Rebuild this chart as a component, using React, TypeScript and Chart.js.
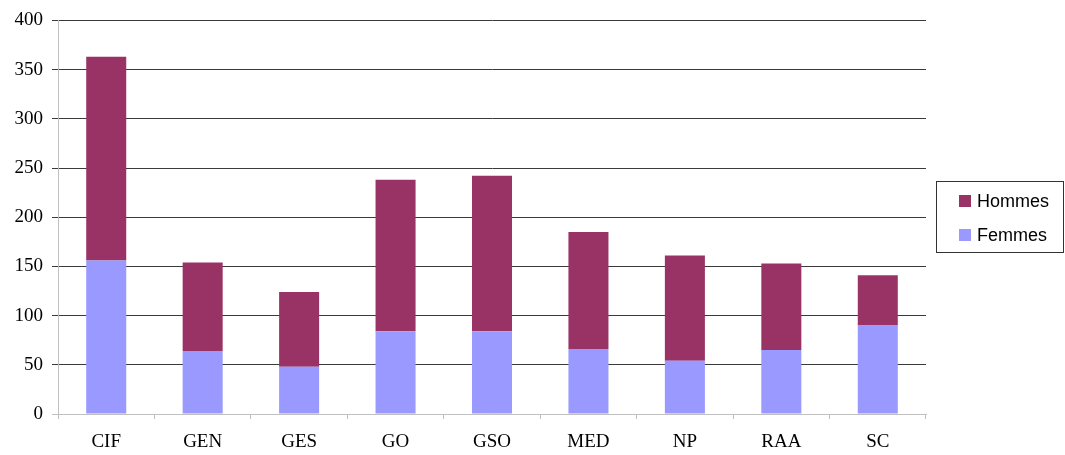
import React, { useEffect, useRef } from "react";
import { Chart, registerables } from "chart.js";

Chart.register(...registerables);

const categories = ["CIF", "GEN", "GES", "GO", "GSO", "MED", "NP", "RAA", "SC"];
const femmes = [156, 64, 48, 84, 84, 66, 54, 65, 90];
const hommes = [207, 90, 76, 154, 158, 119, 107, 88, 51];
const yTicks = [0, 50, 100, 150, 200, 250, 300, 350, 400];
const seriesNames = ["Hommes", "Femmes"];
const colorHommes = "#993366";
const colorFemmes = "#9999ff";

const legendPlugin = {
  id: "boxLegend",
  afterDraw(chart: any) {
    const ctx = chart.ctx;
    ctx.save();
    ctx.strokeStyle = "#333333";
    ctx.lineWidth = 1;
    ctx.strokeRect(936.5, 181.5, 127, 71);
    ctx.font = "18px 'Liberation Sans', Arial, sans-serif";
    ctx.textBaseline = "middle";
    ctx.textAlign = "left";
    const items = [
      { label: seriesNames[0], color: colorHommes, y: 201 },
      { label: seriesNames[1], color: colorFemmes, y: 235 },
    ];
    for (const it of items) {
      ctx.fillStyle = it.color;
      ctx.fillRect(959, it.y - 6, 12, 12);
      ctx.fillStyle = "#000000";
      ctx.fillText(it.label, 977, it.y + 1);
    }
    ctx.restore();
  },
};

export default function App() {
  const ref = useRef<HTMLCanvasElement | null>(null);
  useEffect(() => {
    if (!ref.current) return;
    const chart = new Chart(ref.current, {
      type: "bar",
      data: {
        labels: categories,
        datasets: [
          {
            label: seriesNames[1],
            data: femmes,
            backgroundColor: colorFemmes,
            barPercentage: 0.415,
            categoryPercentage: 1,
          },
          {
            label: seriesNames[0],
            data: hommes,
            backgroundColor: colorHommes,
            barPercentage: 0.415,
            categoryPercentage: 1,
          },
        ],
      },
      options: {
        animation: false,
        responsive: false,
        maintainAspectRatio: false,
        layout: { padding: { left: 0, right: 139, top: 19, bottom: 0 } },
        plugins: { legend: { display: false }, tooltip: { enabled: false } },
        scales: {
          x: {
            stacked: true,
            afterFit: (s: any) => {
              s.height = 41;
            },
            grid: {
              offset: true,
              drawOnChartArea: false,
              drawTicks: true,
              tickLength: 5,
              color: "#c0c0c0",
            },
            border: { color: "#c0c0c0", width: 1 },
            ticks: {
              color: "#000000",
              padding: 12,
              font: { family: "'Liberation Serif', 'Times New Roman', serif", size: 19 },
            },
          },
          y: {
            stacked: true,
            min: 0,
            max: 400,
            afterFit: (s: any) => {
              s.width = 58;
            },
            afterBuildTicks: (s: any) => {
              s.ticks = yTicks.map((v) => ({ value: v }));
            },
            grid: {
              color: (c: any) => (c.tick && c.tick.value === 0 ? "#c0c0c0" : "#3a3a3a"),
              tickLength: 6,
              lineWidth: 1,
            },
            border: { color: "#c0c0c0", width: 1 },
            ticks: {
              color: "#000000",
              padding: 9,
              font: { family: "'Liberation Serif', 'Times New Roman', serif", size: 19 },
            },
          },
        },
      },
      plugins: [legendPlugin],
    });
    return () => chart.destroy();
  }, []);
  return (
    <div style={{ position: "fixed", left: 0, top: 0, width: 1065, height: 455, background: "#fff" }}>
      <canvas ref={ref} width={1065} height={455} style={{ width: 1065, height: 455, display: "block" }} />
    </div>
  );
}
